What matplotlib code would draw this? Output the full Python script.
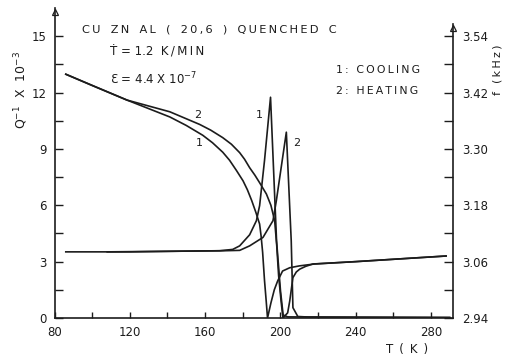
import numpy as np
import matplotlib.pyplot as plt

plt.rcParams['font.family'] = ['DejaVu Sans', 'Noto Sans']

# internal friction Q^-1 (x 10^-3)
t_q_cool = [86, 120, 150, 167.8, 174.7, 178.4, 183.7, 187.3, 189.0, 191.6, 194.8,
            198.0, 200.1, 201.5, 203.9, 240, 290]
q_cool = [3.52, 3.52, 3.56, 3.58, 3.65, 3.84, 4.43, 5.18, 5.98, 8.38, 11.75,
          4.11, 1.44, 0.16, 0.06, 0.04, 0.02]

t_q_heat = [108, 150, 170, 178.4, 183.7, 190.8, 196.1, 197.9, 203.2,
            205.8, 206.7, 209.3, 215, 290]
q_heat = [3.52, 3.56, 3.58, 3.60, 3.84, 4.29, 5.18, 6.25, 9.89,
          4.11, 0.55, 0.08, 0.05, 0.03]

# resonance frequency f (kHz)
t_f_cool = [86, 118.5, 141.3, 150, 158.8, 164, 169.4, 173, 176.7, 180.2, 182.5, 184.8,
            187, 189.0, 189.8, 190.6, 191.6, 192.5, 193.2, 195.0, 196.8, 198.6, 201.2,
            205, 210.2, 218.2, 240, 260, 288.1]
f_cool = [3.459, 3.404, 3.368, 3.350, 3.329, 3.313, 3.293, 3.276, 3.254, 3.232, 3.213,
          3.190, 3.165, 3.140, 3.114, 3.080, 3.020, 2.976, 2.940, 2.972, 3.000, 3.019,
          3.040, 3.047, 3.051, 3.055, 3.060, 3.065, 3.072]

t_f_heat = [86, 100, 118.5, 141.3, 157.2, 163, 169.4, 174, 178.4, 181, 183.7, 186.5,
            189.0, 192.6, 195.0, 197.0, 198.1, 199.1, 200.4, 201.4, 203.9, 205.0,
            206.7, 208.5, 210.3, 213.5, 217.3, 240, 260, 288.1]
f_heat = [3.459, 3.435, 3.404, 3.379, 3.352, 3.340, 3.324, 3.310, 3.292, 3.278, 3.260,
          3.244, 3.228, 3.204, 3.180, 3.147, 3.094, 3.030, 2.976, 2.940, 2.951, 2.976,
          3.026, 3.038, 3.044, 3.050, 3.055, 3.060, 3.065, 3.072]

ink = '#1c1c1c'
W, H = 513, 362

fig = plt.figure(figsize=(W / 100, H / 100), dpi=100)
ax = fig.add_axes([54.5 / W, 1 - 318 / H, 398 / W, 310 / H])
ax2 = ax.twinx()

ax.set_xlim(80, 291.5)
ax.set_ylim(0, 16.5)
ax2.set_ylim(2.94, 2.94 + 0.04 * 16.5)

ax.plot(t_q_cool, q_cool, color=ink, lw=1.2)
ax.plot(t_q_heat, q_heat, color=ink, lw=1.2)
ax2.plot(t_f_cool, f_cool, color=ink, lw=1.2)
ax2.plot(t_f_heat, f_heat, color=ink, lw=1.2)

# spines
for s in ['top', 'right']:
    ax.spines[s].set_visible(False)
for s in ['top', 'left', 'bottom']:
    ax2.spines[s].set_visible(False)
ax.spines['left'].set_linewidth(1.2)
ax.spines['bottom'].set_linewidth(1.2)
ax2.spines['right'].set_linewidth(1.2)
ax2.spines['right'].set_bounds(2.94, 3.566)
for sp in [ax.spines['left'], ax.spines['bottom'], ax2.spines['right']]:
    sp.set_color(ink)

# arrow heads on the vertical axes
ax.plot([80], [16.3], marker='^', ms=4, mfc='white', mec=ink, mew=0.9, clip_on=False)
ax2.plot([291.5], [3.558], marker='^', ms=4, mfc='white', mec=ink, mew=0.9, clip_on=False)

# ticks
ax.set_xticks([80, 120, 160, 200, 240, 280])
ax.set_xticks([100, 140, 180, 220, 260], minor=True)
ax.set_yticks([0, 3, 6, 9, 12, 15])
ax.set_yticks([1.5, 4.5, 7.5, 10.5, 13.5], minor=True)
ax2.set_yticks([2.94, 3.06, 3.18, 3.30, 3.42, 3.54])
ax2.set_yticks([3.00, 3.12, 3.24, 3.36, 3.48], minor=True)
ax2.set_yticklabels(['2.94', '3.06', '3.18', '3.30', '3.42', '3.54'])

ax.tick_params(axis='x', which='both', direction='in', length=4, width=1, color=ink,
               labelsize=8.5, pad=6, labelcolor=ink)
ax.tick_params(axis='y', which='both', direction='in', length=6, width=1, color=ink,
               labelsize=8.5, pad=5.5, labelcolor=ink)
ax2.tick_params(axis='y', which='both', direction='in', length=6.5, width=1, color=ink,
                labelsize=8.5, pad=7, labelcolor=ink)


def spaced(s, sep='\u2009'):
    return sep.join(s)


gap = '\u2009\u2002\u2009'
title = gap.join(spaced(w) for w in ['CU', 'ZN', 'AL', '(', '20,6', ')', 'QUENCHED', 'C'])

# texts
fig.text(82 / W, 1 - 29 / H, title, fontsize=8.2,
         color=ink, ha='left', va='center')
fig.text(110 / W, 1 - 52 / H, 'Ṫ = 1.2  ' + spaced('K/MIN'), fontsize=8.5,
         color=ink, ha='left', va='center')
fig.text(110 / W, 1 - 79 / H, 'Ɛ = 4.4 X 10$^{-7}$', fontsize=8.5,
         color=ink, ha='left', va='center')
fig.text(336 / W, 1 - 70 / H, spaced('1: COOLING'), fontsize=7.8,
         color=ink, ha='left', va='center')
fig.text(336 / W, 1 - 91 / H, spaced('2: HEATING'), fontsize=7.8,
         color=ink, ha='left', va='center')

fig.text(21 / W, 1 - 90 / H, r'Q$^{-1}$  X  10$^{-3}$', rotation=90, fontsize=9,
         color=ink, ha='center', va='center')
fig.text(497 / W, 1 - 70 / H, spaced('f (kHz)'), rotation=90, fontsize=8,
         color=ink, ha='center', va='center')
fig.text(407 / W, 1 - 350 / H, spaced('T ( K )', '\u200a'), fontsize=8.5,
         color=ink, ha='center', va='center')

# curve numbers
ax.text(156.3, 10.8, '2', fontsize=8, color=ink, ha='center', va='center')
ax.text(156.8, 9.3, '1', fontsize=8, color=ink, ha='center', va='center')
ax.text(189.0, 10.8, '1', fontsize=8, color=ink, ha='center', va='center')
ax.text(208.5, 9.3, '2', fontsize=8, color=ink, ha='center', va='center')

fig.savefig('out.png', dpi=100, facecolor='white')
